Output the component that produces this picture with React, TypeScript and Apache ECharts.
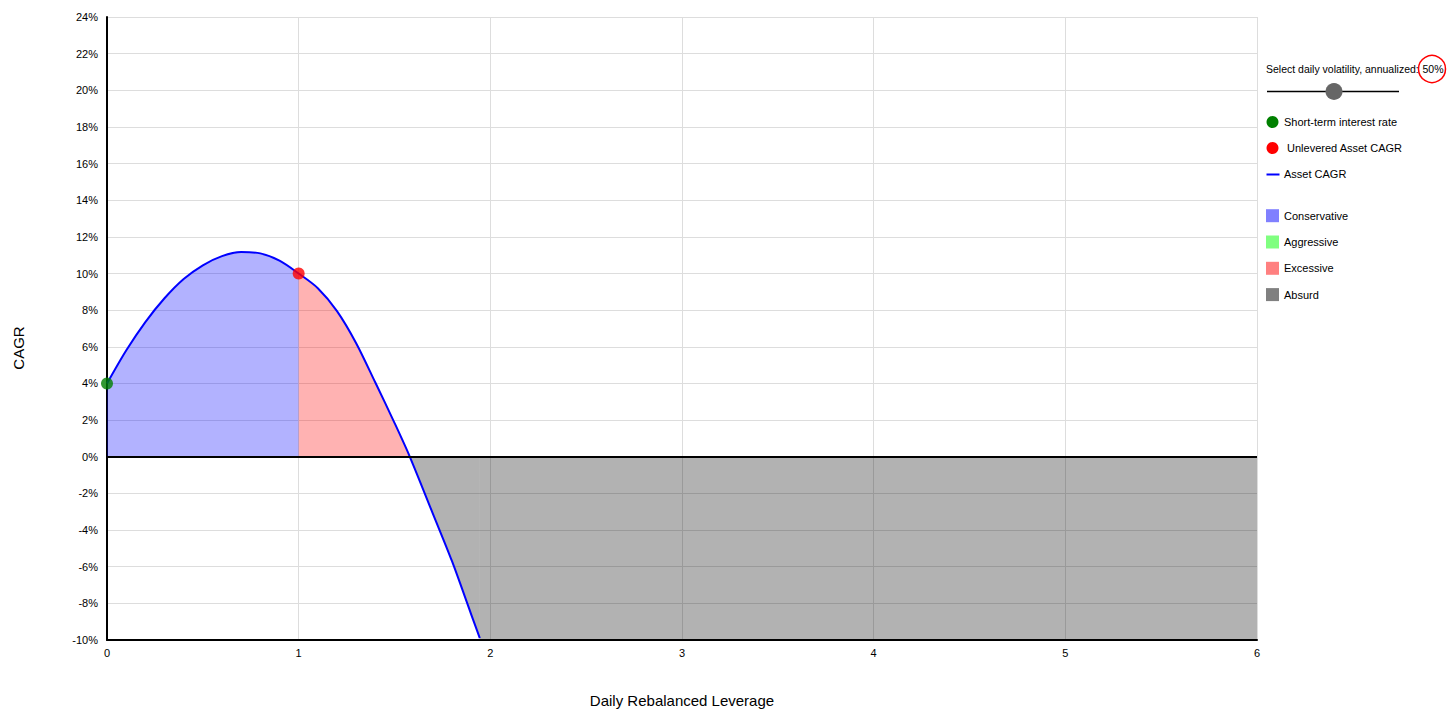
import React, { useEffect, useRef } from "react";
import * as echarts from "echarts";

// Daily rebalanced leverage (x) and resulting asset CAGR in % (y)
const leverage = [0, 0.1, 0.2, 0.3, 0.4, 0.5, 0.6, 0.7, 0.8, 0.9, 1.0, 1.1, 1.2, 1.3, 1.4, 1.5, 1.58, 1.7, 1.8, 1.9, 1.945];
const cagrPct = [4.0, 5.8, 7.35, 8.65, 9.7, 10.45, 10.95, 11.17, 11.1, 10.7, 10.0, 9.2, 7.95, 6.2, 4.05, 1.85, 0.0, -3.1, -5.7, -8.6, -9.9];

// Zone boundaries (leverage)
const unleveredLev = 1;
const breakEvenLev = 1.58;

// Reference points
const shortRatePoint = [0, 4];
const unleveredPoint = [1, 10];

// Axis ranges
const xMin = 0;
const xMax = 6;
const yMin = -10;
const yMax = 24;
const volatilityLabel = "50%";

const legendDots = ["Short-term interest rate", " Unlevered Asset CAGR"];
const legendZones = ["Conservative", "Aggressive", "Excessive", "Absurd"];
const zoneSwatchColors = ["#8080ff", "#80ff80", "#ff8080", "#808080"];

const FONT = "Liberation Sans, Arial, Helvetica, sans-serif";
const SMOOTH = 0.3;

function buildOption() {
  const curve = leverage.map((l, i) => [l, cagrPct[i]]);
  const conservative = curve.filter((p) => p[0] <= unleveredLev);
  const excessive = curve.filter((p) => p[0] >= unleveredLev && p[0] <= breakEvenLev);
  const absurd = curve.filter((p) => p[0] >= breakEvenLev);
  const lastLev = absurd[absurd.length - 1][0];
  const absurdFloor = [[lastLev, yMin], [xMax, yMin]];

  const legendX = 1266;
  const textX = 1284;
  const graphic: any[] = [
    {
      type: "text",
      x: 18,
      y: 348,
      rotation: Math.PI / 2,
      style: { text: "CAGR", fontSize: 15, fontFamily: FONT, fill: "#000", align: "center", verticalAlign: "middle" },
    },
    {
      type: "text",
      x: legendX,
      y: 69,
      style: { text: "Select daily volatility, annualized:", fontSize: 10.5, fontFamily: FONT, fill: "#000", align: "left", verticalAlign: "middle" },
    },
    {
      type: "text",
      x: 1433,
      y: 69,
      style: { text: volatilityLabel, fontSize: 10.5, fontFamily: FONT, fill: "#000", align: "center", verticalAlign: "middle" },
    },
    {
      type: "circle",
      shape: { cx: 1432, cy: 69, r: 13.5 },
      style: { fill: "none", stroke: "#ff0000", lineWidth: 1.5 },
    },
    {
      type: "line",
      shape: { x1: 1267, y1: 91.5, x2: 1399, y2: 91.5 },
      style: { stroke: "#000", lineWidth: 1.5 },
    },
    {
      type: "circle",
      shape: { cx: 1334, cy: 91.5, r: 8.5 },
      style: { fill: "#666666" },
    },
    {
      type: "circle",
      shape: { cx: 1272.5, cy: 122, r: 6 },
      style: { fill: "#008000" },
    },
    {
      type: "text",
      x: textX,
      y: 122,
      style: { text: legendDots[0], fontSize: 11, fontFamily: FONT, fill: "#000", align: "left", verticalAlign: "middle" },
    },
    {
      type: "circle",
      shape: { cx: 1272.5, cy: 148, r: 6 },
      style: { fill: "#ff0000" },
    },
    {
      type: "text",
      x: textX,
      y: 148,
      style: { text: legendDots[1], fontSize: 11, fontFamily: FONT, fill: "#000", align: "left", verticalAlign: "middle" },
    },
    {
      type: "line",
      shape: { x1: 1266.5, y1: 174.5, x2: 1279.5, y2: 174.5 },
      style: { stroke: "#0000ff", lineWidth: 2 },
    },
    {
      type: "text",
      x: textX,
      y: 174,
      style: { text: "Asset CAGR", fontSize: 11, fontFamily: FONT, fill: "#000", align: "left", verticalAlign: "middle" },
    },
  ];
  legendZones.forEach((name, i) => {
    const cy = 215.7 + i * 26.3;
    graphic.push({
      type: "rect",
      shape: { x: 1266, y: cy - 6.5, width: 13, height: 13 },
      style: { fill: zoneSwatchColors[i] },
    });
    graphic.push({
      type: "text",
      x: textX,
      y: cy,
      style: { text: name, fontSize: 11, fontFamily: FONT, fill: "#000", align: "left", verticalAlign: "middle" },
    });
  });

  const areaSeries = (name: string, data: number[][], color: string, smooth: number) => ({
    name,
    type: "line",
    data,
    symbol: "none",
    smooth,
    lineStyle: { width: 0 },
    areaStyle: { color, opacity: 1, origin: "auto" },
    clip: true,
    z: 1,
  });

  return {
    animation: false,
    textStyle: { fontFamily: FONT },
    grid: { left: 107, right: 199, top: 17, bottom: 79, containLabel: false },
    xAxis: {
      type: "value",
      min: xMin,
      max: xMax,
      interval: 1,
      name: "Daily Rebalanced Leverage",
      nameLocation: "middle",
      nameGap: 53,
      nameTextStyle: { fontSize: 15, color: "#000", fontFamily: FONT },
      axisLine: { show: true, onZero: false, lineStyle: { color: "#000", width: 2 } },
      axisTick: { show: false },
      axisLabel: { fontSize: 11, color: "#000", margin: 7, fontFamily: FONT },
      splitLine: { show: true, lineStyle: { color: "#dddddd", width: 1 } },
    },
    yAxis: {
      type: "value",
      min: yMin,
      max: yMax,
      interval: 2,
      axisLine: { show: true, onZero: false, lineStyle: { color: "#000", width: 2 } },
      axisTick: { show: false },
      axisLabel: { fontSize: 11, color: "#000", margin: 9, formatter: "{value}%", fontFamily: FONT },
      splitLine: { show: true, lineStyle: { color: "#dddddd", width: 1 } },
    },
    graphic,
    series: [
      areaSeries("Conservative", conservative, "rgba(0,0,255,0.3)", SMOOTH),
      areaSeries("Excessive", excessive, "rgba(255,0,0,0.3)", SMOOTH),
      areaSeries("Absurd", absurd, "rgba(0,0,0,0.3)", SMOOTH),
      areaSeries("Absurd floor", absurdFloor, "rgba(0,0,0,0.3)", 0),
      {
        name: "Asset CAGR",
        type: "line",
        data: curve,
        symbol: "none",
        smooth: SMOOTH,
        lineStyle: { color: "#0000ff", width: 2 },
        z: 3,
        markLine: {
          silent: true,
          symbol: "none",
          label: { show: false },
          lineStyle: { color: "#000", width: 2, type: "solid" },
          data: [{ yAxis: 0 }],
        },
      },
      {
        name: "Short-term interest rate",
        type: "scatter",
        data: [shortRatePoint],
        symbolSize: 12,
        itemStyle: { color: "#008000" },
        clip: false,
        z: 5,
      },
      {
        name: "Unlevered Asset CAGR",
        type: "scatter",
        data: [unleveredPoint],
        symbolSize: 12,
        itemStyle: { color: "#ff0000" },
        clip: false,
        z: 5,
      },
    ],
  };
}

export default function App() {
  const ref = useRef<HTMLDivElement>(null);
  useEffect(() => {
    if (!ref.current) return;
    const chart = echarts.init(ref.current, null, { renderer: "svg" });
    chart.setOption(buildOption() as any);
    return () => chart.dispose();
  }, []);
  return (
    <div
      ref={ref}
      style={{ position: "absolute", left: 0, top: 0, width: 1456, height: 719, background: "#fff" }}
    />
  );
}
